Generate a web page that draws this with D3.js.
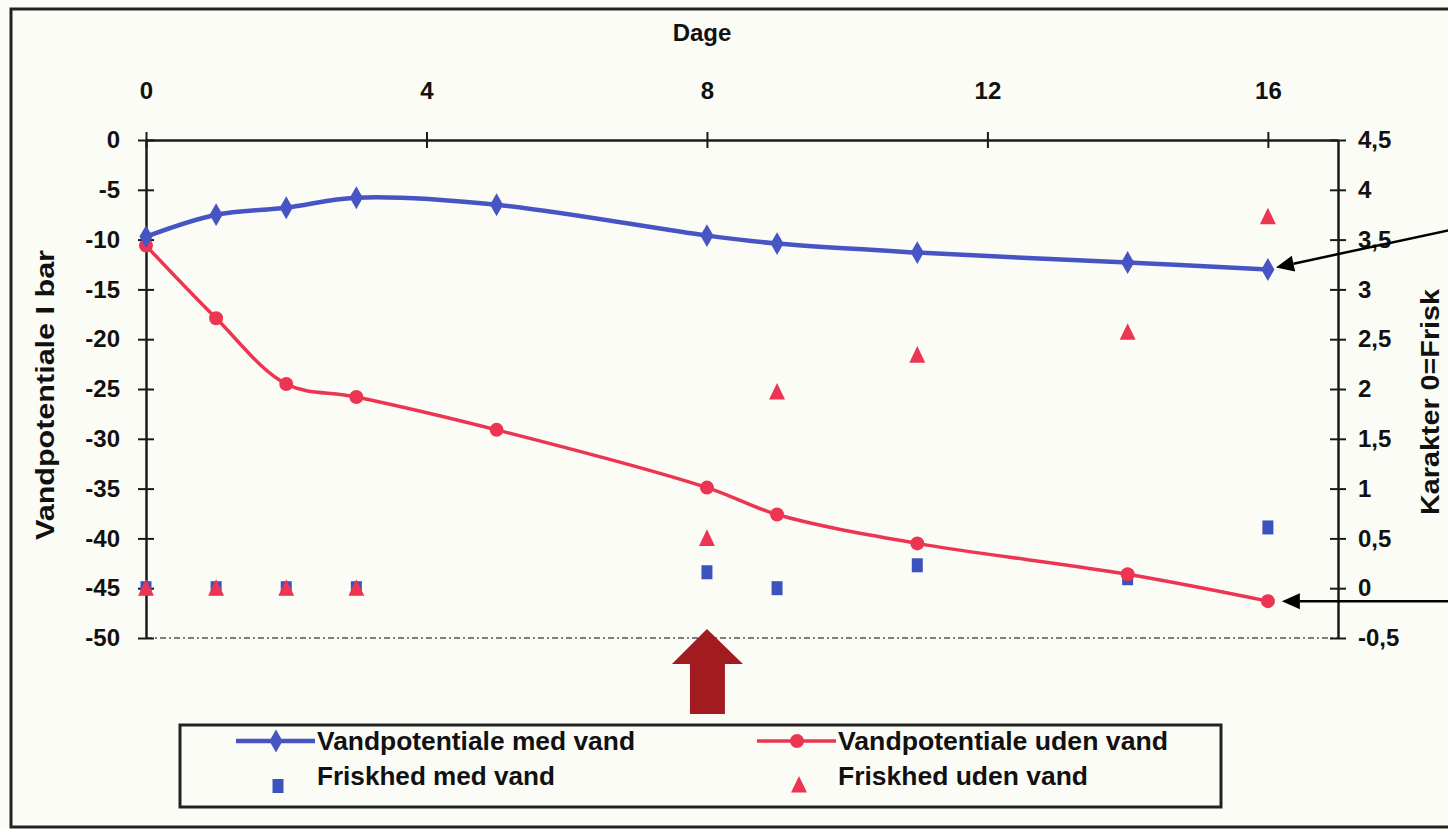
<!DOCTYPE html>
<html>
<head>
<meta charset="utf-8">
<script src="https://cdn.jsdelivr.net/npm/d3@7"></script>
<style>
  html, body { margin: 0; padding: 0; background: #fcfcf6; }
  svg { display: block; }
  text { font-family: "Liberation Sans", Arial, sans-serif; font-weight: bold; fill: #111; }
</style>
</head>
<body>
<svg id="chart"></svg>
<script>
let days = [0, 1, 2, 3, 5, 8, 9, 11, 14, 16]
let medVand = [-9.7, -7.5, -6.8, -5.8, -6.5, -9.6, -10.4, -11.3, -12.3, -13.0]
let udenVand = [-10.6, -17.9, -24.5, -25.8, -29.1, -34.9, -37.6, -40.5, -43.6, -46.3]

let friskDays = [0, 1, 2, 3, 8, 9, 11, 14, 16]
let friskMed = [0, 0, 0, 0, 0.16, 0, 0.23, 0.1, 0.61]
let friskUden = [0, 0, 0, 0, 0.5, 1.97, 2.34, 2.57, 3.73]

let xTicks = [0, 4, 8, 12, 16]
let leftTicks = [0, -5, -10, -15, -20, -25, -30, -35, -40, -45, -50]
let rightTicks = [4.5, 4, 3.5, 3, 2.5, 2, 1.5, 1, 0.5, 0, -0.5]

let blue = '#4654c4'
let red = '#ec3552'
let sqBlue = '#3c52bd'

let W = 1448
let H = 829
let margin = { top: 140, right: 110, bottom: 191, left: 146 }
let width = W - margin.left - margin.right
let height = H - margin.top - margin.bottom

let svg = d3.select('#chart')
  .attr('width', W)
  .attr('height', H)

// outer frame
svg.append('rect')
  .attr('x', 11).attr('y', 9)
  .attr('width', W).attr('height', 818)
  .attr('fill', 'none')
  .attr('stroke', '#222')
  .attr('stroke-width', 3)

let g = svg.append('g')
  .attr('transform', 'translate(' + margin.left + ',' + margin.top + ')')

let x = d3.scaleLinear().domain([0, 17]).range([0, width])
let yL = d3.scaleLinear().domain([-50, 0]).range([height, 0])
let yR = d3.scaleLinear().domain([-0.5, 4.5]).range([height, 0])

// plain hyphen minus and decimal comma, like the original
let plain = d => String(d)
let comma = d => String(d).replace('.', ',')

// bottom faint dashed line
g.append('line')
  .attr('x1', 0).attr('x2', width)
  .attr('y1', height).attr('y2', height)
  .attr('stroke', '#555')
  .attr('stroke-width', 1.5)
  .attr('stroke-dasharray', '6,3,2,3')

let xAxis = d3.axisTop(x).tickValues(xTicks).tickSizeOuter(0).tickSizeInner(8).tickPadding(33)
let yAxisL = d3.axisLeft(yL).tickValues(leftTicks).tickFormat(plain).tickSizeOuter(0).tickSizeInner(8).tickPadding(18)
let yAxisR = d3.axisRight(yR).tickValues(rightTicks).tickFormat(comma).tickSizeOuter(0).tickSizeInner(8).tickPadding(12)

function styleAxis (sel, dir) {
  sel.select('.domain').attr('stroke', '#1a1a1a').attr('stroke-width', 2.5)
  sel.selectAll('.tick line').attr('stroke', '#1a1a1a').attr('stroke-width', 2)
  if (dir === 'x') sel.selectAll('.tick line').attr('y1', 8).attr('y2', -8)
  else sel.selectAll('.tick line').attr('x1', -8).attr('x2', 8)
  sel.selectAll('.tick text')
    .style('font-family', '"Liberation Sans", Arial, sans-serif')
    .style('font-weight', 'bold')
    .style('font-size', '24px')
    .attr('fill', '#111')
}

g.append('g').attr('class', 'x axis').call(xAxis).call(styleAxis, 'x')
g.append('g').attr('class', 'y axis').call(yAxisL).call(styleAxis, 'y')
g.append('g').attr('class', 'y2 axis')
  .attr('transform', 'translate(' + width + ',0)')
  .call(yAxisR).call(styleAxis, 'y')

// axis titles
svg.append('text')
  .attr('x', 702).attr('y', 41)
  .attr('text-anchor', 'middle')
  .style('font-size', '24px')
  .text('Dage')

svg.append('text')
  .attr('transform', 'translate(54,395) rotate(-90)')
  .attr('text-anchor', 'middle')
  .style('font-size', '25px')
  .attr('textLength', 290)
  .attr('lengthAdjust', 'spacingAndGlyphs')
  .text('Vandpotentiale I bar')

svg.append('text')
  .attr('transform', 'translate(1439,402) rotate(-90)')
  .attr('text-anchor', 'middle')
  .style('font-size', '25px')
  .attr('textLength', 226)
  .attr('lengthAdjust', 'spacingAndGlyphs')
  .text('Karakter 0=Frisk')

// lines
let line = d3.line()
  .x(d => x(d[0]))
  .y(d => yL(d[1]))
  .curve(d3.curveCatmullRom.alpha(0.5))

let medData = days.map((d, i) => [d, medVand[i]])
let udenData = days.map((d, i) => [d, udenVand[i]])

// scatter: friskhed
let sqW = 11
let sqH = 14
g.selectAll('.sq').data(friskDays.map((d, i) => [d, friskMed[i]]))
  .enter().append('rect')
  .attr('class', 'sq')
  .attr('x', d => x(d[0]) - sqW / 2)
  .attr('y', d => yR(d[1]) - sqH / 2)
  .attr('width', sqW).attr('height', sqH)
  .attr('fill', sqBlue)

let tri = d3.symbol().type(d3.symbolTriangle).size(110)
g.selectAll('.tri').data(friskDays.map((d, i) => [d, friskUden[i]]))
  .enter().append('path')
  .attr('class', 'tri')
  .attr('d', tri)
  .attr('transform', d => 'translate(' + x(d[0]) + ',' + (yR(d[1]) + 2) + ') scale(1,1.2)')
  .attr('fill', red)

g.append('path').datum(udenData)
  .attr('d', line)
  .attr('fill', 'none')
  .attr('stroke', red)
  .attr('stroke-width', 3.5)

g.selectAll('.circ').data(udenData)
  .enter().append('circle')
  .attr('cx', d => x(d[0]))
  .attr('cy', d => yL(d[1]))
  .attr('r', 7)
  .attr('fill', red)

g.append('path').datum(medData)
  .attr('d', line)
  .attr('fill', 'none')
  .attr('stroke', blue)
  .attr('stroke-width', 4.5)

let diamond = d3.symbol().type(d3.symbolDiamond).size(150)
g.selectAll('.dia').data(medData)
  .enter().append('path')
  .attr('d', diamond)
  .attr('transform', d => 'translate(' + x(d[0]) + ',' + yL(d[1]) + ')')
  .attr('fill', blue)

// annotation arrows pointing at the day-16 values
let px16 = margin.left + x(16)
let ann = g.append('g').attr('transform', 'translate(' + (-margin.left) + ',' + (-margin.top) + ')')
let arrowLines = [
  [[W + 2, 230], [px16 + 8, margin.top + yL(medVand[9]) - 2]],
  [[W + 2, margin.top + yL(udenVand[9])], [px16 + 14, margin.top + yL(udenVand[9])]]
]
arrowLines.forEach(a => {
  let dx = a[1][0] - a[0][0]
  let dy = a[1][1] - a[0][1]
  let len = Math.sqrt(dx * dx + dy * dy)
  let ux = dx / len
  let uy = dy / len
  let bx = a[1][0] - ux * 18
  let by = a[1][1] - uy * 18
  ann.append('line')
    .attr('x1', a[0][0]).attr('y1', a[0][1])
    .attr('x2', bx).attr('y2', by)
    .attr('stroke', '#000').attr('stroke-width', 2.5)
  ann.append('path')
    .attr('d', 'M' + a[1][0] + ',' + a[1][1] +
      'L' + (bx - uy * 8) + ',' + (by + ux * 8) +
      'L' + (bx + uy * 8) + ',' + (by - ux * 8) + 'Z')
    .attr('fill', '#000')
})

// big red up arrow at day 8
let ax = margin.left + x(8)
let tipY = margin.top + height - 9
ann.append('path')
  .attr('d', 'M' + ax + ',' + tipY +
    'L' + (ax + 36) + ',' + (tipY + 35) +
    'L' + (ax + 18) + ',' + (tipY + 35) +
    'L' + (ax + 18) + ',' + (tipY + 85) +
    'L' + (ax - 17) + ',' + (tipY + 85) +
    'L' + (ax - 17) + ',' + (tipY + 35) +
    'L' + (ax - 35) + ',' + (tipY + 35) + 'Z')
  .attr('fill', '#a11b20')

// legend
let lg = svg.append('g')
lg.append('rect')
  .attr('x', 180).attr('y', 725)
  .attr('width', 1041).attr('height', 82)
  .attr('fill', 'none')
  .attr('stroke', '#222')
  .attr('stroke-width', 3)

let legendItems = [
  { label: 'Vandpotentiale med vand', type: 'line', color: blue, x: 236, y: 741, tl: 318 },
  { label: 'Vandpotentiale uden vand', type: 'lineC', color: red, x: 757, y: 741, tl: 330 },
  { label: 'Friskhed med vand', type: 'sq', color: sqBlue, x: 236, y: 776, tl: 238 },
  { label: 'Friskhed uden vand', type: 'tri', color: red, x: 757, y: 776, tl: 250 }
]
legendItems.forEach(it => {
  let cx = it.x + 40
  if (it.type === 'line' || it.type === 'lineC') {
    lg.append('line')
      .attr('x1', it.x).attr('x2', it.x + 79)
      .attr('y1', it.y).attr('y2', it.y)
      .attr('stroke', it.color).attr('stroke-width', it.type === 'line' ? 4.5 : 3.5)
    if (it.type === 'line') {
      lg.append('path').attr('d', diamond)
        .attr('transform', 'translate(' + cx + ',' + it.y + ')')
        .attr('fill', it.color)
    } else {
      lg.append('circle').attr('cx', cx).attr('cy', it.y).attr('r', 7).attr('fill', it.color)
    }
  } else if (it.type === 'sq') {
    lg.append('rect')
      .attr('x', it.x + 42 - sqW / 2).attr('y', it.y + 3)
      .attr('width', sqW).attr('height', sqH)
      .attr('fill', it.color)
  } else {
    lg.append('path').attr('d', tri)
      .attr('transform', 'translate(' + (it.x + 42) + ',' + (it.y + 11) + ') scale(1,1.2)')
      .attr('fill', it.color)
  }
  lg.append('text')
    .attr('x', it.x + 81).attr('y', it.y + 9)
    .style('font-size', '25px')
    .attr('textLength', it.tl)
    .attr('lengthAdjust', 'spacingAndGlyphs')
    .text(it.label)
})
</script>
</body>
</html>
